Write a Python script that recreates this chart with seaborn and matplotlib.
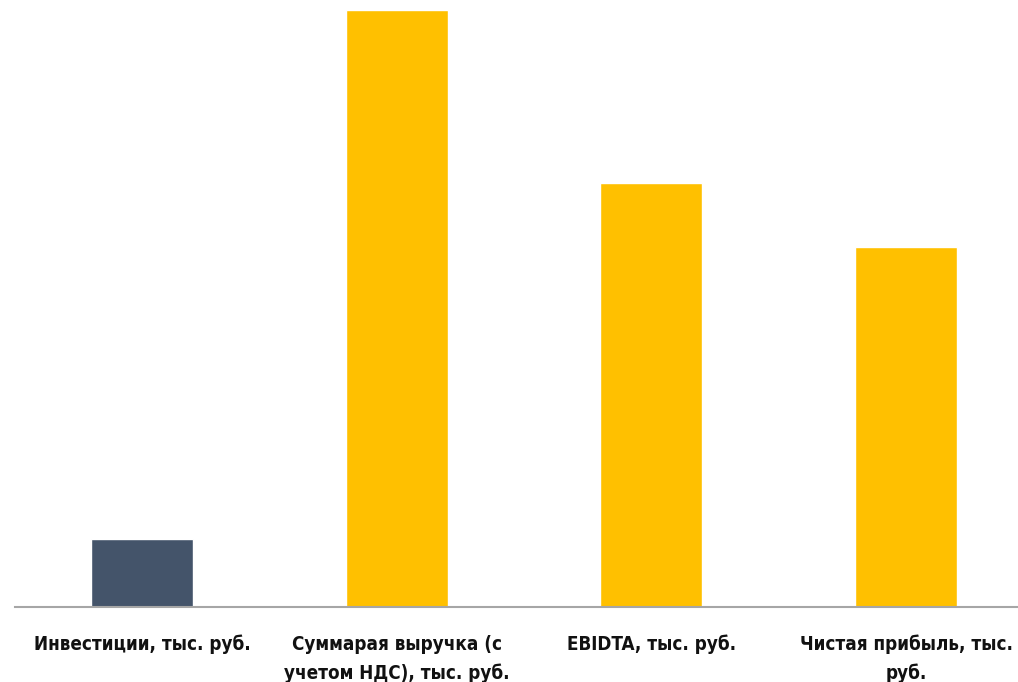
import matplotlib
matplotlib.use("Agg")
import matplotlib.pyplot as plt
import seaborn as sns
import pandas as pd

categories = ["Инвестиции, тыс. руб.",
              "Суммарая выручка (с\nучетом НДС), тыс. руб.",
              "EBIDTA, тыс. руб.",
              "Чистая прибыль, тыс.\nруб."]
values = [5700, 50000, 35500, 30150]
colors = ["#44546A", "#FFC000", "#FFC000", "#FFC000"]

sns.set_theme(style="white")
plt.rcParams['font.family'] = ['DejaVu Sans Condensed', 'DejaVu Sans']

W, H = 1018, 682
fig = plt.figure(figsize=(W/100, H/100), dpi=100)
left = 14.65 / W
bottom = (H - 607) / H
width = 1018.7 / W
height = (607 - 10) / H
ax = fig.add_axes([left, bottom, width, height])

df = pd.DataFrame({"cat": categories, "val": values})
sns.barplot(data=df, x="cat", y="val", hue="cat", palette=colors,
            legend=False, width=0.40, ax=ax, saturation=1)

ax.set_xlim(-0.5, 3.5)
ax.set_ylim(0, 50000)
ax.set_xlabel("")
ax.set_ylabel("")
ax.set_yticks([])
for s in ["top", "right", "left"]:
    ax.spines[s].set_visible(False)
ax.spines["bottom"].set_color("#A6A6A6")
ax.spines["bottom"].set_linewidth(1.5)
ax.tick_params(axis="x", length=0, pad=20)
for lbl in ax.get_xticklabels():
    lbl.set_fontsize(13.5)
    lbl.set_fontweight("bold")
    lbl.set_fontstretch("condensed")
    lbl.set_color("#111111")
    lbl.set_ha("center")
    lbl.set_linespacing(1.6)

fig.savefig("out.png", dpi=100)
